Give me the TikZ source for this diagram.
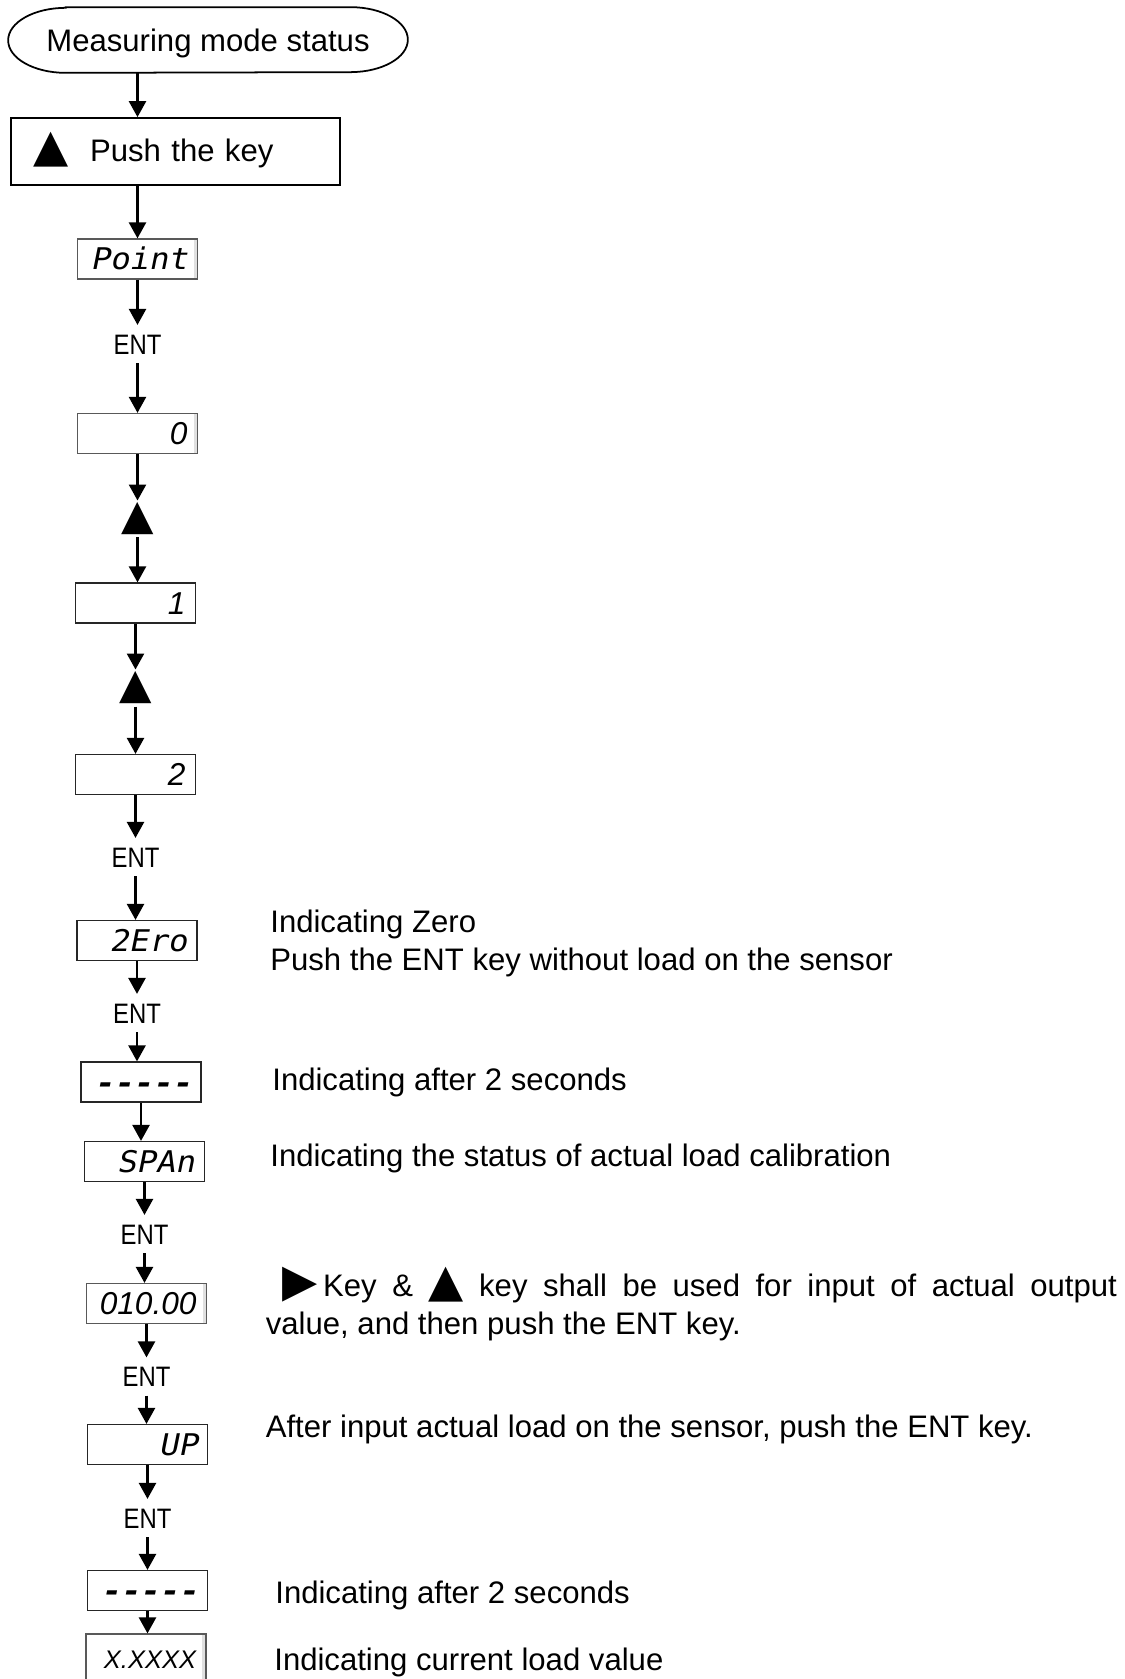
\documentclass[tikz,border=0pt]{standalone}
\usepackage{fontspec}
\setmainfont{Liberation Sans}
\newfontfamily\symfont{DejaVu Sans}
\newfontfamily\segfont[FakeStretch=1.08,FakeSlant=0.2]{DejaVu Sans Mono}
\newfontfamily\entfont[FakeStretch=0.85]{Liberation Sans}
\newcommand{\notesize}{\fontsize{17.7}{21.9}\selectfont}
\newcommand{\uptri}{{\symfont\fontsize{26}{22}\selectfont ▲}}
\newcommand{\rtri}{{\symfont\fontsize{26}{22}\selectfont ▶}}
\usepackage{tikz}
\usetikzlibrary{arrows.meta}
\tikzstyle{startbox} = [rectangle,minimum width=7.98cm,minimum height=1.3cm,text height=0.45cm,text depth=0cm,font=\notesize]
\tikzstyle{keybox} = [rectangle,draw=black,line width=1pt,minimum width=6.58cm,minimum height=1.34cm,inner xsep=0.44cm,text width=5.7cm,text height=0.42cm,text depth=0cm,align=left,font=\notesize]
\tikzstyle{disp} = [rectangle,draw=black!85,line width=0.7pt,fill=white,minimum width=2.4cm,minimum height=0.8cm,inner xsep=0.2cm,text width=2.0cm,text height=0.44cm,text depth=0cm,align=right,font=\segfont\fontsize{17}{17}\selectfont]
\tikzstyle{lcd} = [disp,draw=black!65,path picture={\fill[black!12] ([xshift=-0.08cm]path picture bounding box.north east) rectangle (path picture bounding box.south east);}]
\tikzstyle{digits} = [font=\itshape\fontsize{18}{18}\selectfont]
\tikzstyle{enttxt} = [inner xsep=0cm,inner ysep=0.17cm,text height=0.41cm,text depth=0cm,font=\entfont\fontsize{16}{16}\selectfont]
\tikzstyle{keytri} = [inner sep=0.04cm,font=\symfont\fontsize{24}{24}\selectfont]
\tikzstyle{note} = [anchor=base west,inner sep=0cm,font=\notesize,align=left]
\tikzstyle{arrow} = [line width=1.4pt,-{Triangle[width=0.34cm,length=0.32cm]}]
\begin{document}
\begin{tikzpicture}
\tikzstyle{every node}=[font=\notesize]
\useasboundingbox (0,0) rectangle (22.5,-33.58);

% 1 pixel of the panel = 0.02cm

\node (start) [startbox,xshift=4.16cm,yshift=-0.80cm] {Measuring mode status};
\node (push)  [keybox,xshift=3.51cm,yshift=-3.03cm] {\uptri\hspace{0.44cm}Push the key};

\node (pnt)   [lcd,xshift=2.75cm,yshift=-5.18cm] {Point};
\node (ent1)  [enttxt,below of=pnt,yshift=-0.70cm] {ENT};
\node (d0)    [lcd,digits,xshift=2.75cm,yshift=-8.67cm] {0};
\node (tri1)  [keytri,below of=d0,yshift=-0.71cm] {▲};
\node (d1)    [disp,digits,xshift=2.71cm,yshift=-12.06cm] {1};
\node (tri2)  [keytri,below of=d1,yshift=-0.70cm] {▲};
\node (d2)    [disp,digits,xshift=2.71cm,yshift=-15.49cm] {2};
\node (ent2)  [enttxt,below of=d2,yshift=-0.65cm] {ENT};
\node (zro)   [disp,xshift=2.74cm,yshift=-18.81cm] {2Ero};
\node (ent3)  [enttxt,below of=zro,yshift=-0.45cm] {ENT};
\node (dash1) [disp,xshift=2.82cm,yshift=-21.64cm] {\bfseries -----};
\node (span)  [disp,xshift=2.89cm,yshift=-23.23cm] {SPAn};
\node (ent4)  [enttxt,below of=span,yshift=-0.45cm] {ENT};
\node (val)   [lcd,digits,xshift=2.93cm,yshift=-26.07cm] {010.00};
\node (ent5)  [enttxt,below of=val,yshift=-0.46cm] {ENT};
\node (up)    [disp,xshift=2.95cm,yshift=-28.89cm] {UP};
\node (ent6)  [enttxt,below of=up,yshift=-0.47cm] {ENT};
\node (dash2) [disp,xshift=2.95cm,yshift=-31.81cm] {\bfseries -----};
\node (cur)   [lcd,font=\fontsize{14.5}{14.5}\selectfont\itshape,minimum height=0.94cm,xshift=2.92cm,yshift=-33.15cm] {X.XXXX};

\node (lbl1) [note,xshift=5.40cm,yshift=-19.41cm] {Indicating Zero\\Push the ENT key without load on the sensor};
\node (lbl2) [note,xshift=5.44cm,yshift=-21.80cm] {Indicating after 2 seconds};
\node (lbl3) [note,xshift=5.40cm,yshift=-23.32cm] {Indicating the status of actual load calibration};
\node (lbl4) [note,text width=17.02cm,align=justify,xshift=5.31cm,yshift=-25.92cm] {\hspace*{0.34cm}\rtri\,Key \& \uptri\ key shall be used for input of actual output\linebreak value, and then push the ENT key.};
\node (lbl5) [note,xshift=5.31cm,yshift=-28.74cm] {After input actual load on the sensor, push the ENT key.};
\node (lbl6) [note,xshift=5.50cm,yshift=-32.06cm] {Indicating after 2 seconds};
\node (lbl7) [note,xshift=5.48cm,yshift=-33.40cm] {Indicating current load value};

\draw[line width=1pt] ([xshift=1.15cm]start.north west) -- ([xshift=-1.15cm]start.north east)
  arc[start angle=90,end angle=-90,x radius=1.15cm,y radius=0.65cm]
  -- ([xshift=1.15cm]start.south west)
  arc[start angle=270,end angle=90,x radius=1.15cm,y radius=0.65cm] -- cycle;

\draw[arrow] (start.south -| pnt) -- (push.north -| pnt);
\draw[arrow] (push.south -| pnt) -- (pnt);
\draw[arrow] (pnt) -- (ent1);
\draw[arrow] (ent1) -- (ent1 |- d0.north);
\draw[arrow] (d0) -- (tri1);
\draw[arrow] (tri1) -- (tri1 |- d1.north);
\draw[arrow] (d1) -- (tri2);
\draw[arrow] (tri2) -- (tri2 |- d2.north);
\draw[arrow] (d2) -- (ent2);
\draw[arrow] (ent2) -- (ent2 |- zro.north);
\draw[arrow] (zro) -- (ent3);
\draw[arrow] (ent3) -- (ent3 |- dash1.north);
\draw[arrow] (dash1) -- (dash1 |- span.north);
\draw[arrow] (span) -- (ent4);
\draw[arrow] (ent4) -- (ent4 |- val.north);
\draw[arrow] (val) -- (ent5);
\draw[arrow] (ent5) -- (ent5 |- up.north);
\draw[arrow] (up) -- (ent6);
\draw[arrow] (ent6) -- (ent6 |- dash2.north);
\draw[arrow] (dash2) -- (dash2 |- cur.north);
\end{tikzpicture}
\end{document}
